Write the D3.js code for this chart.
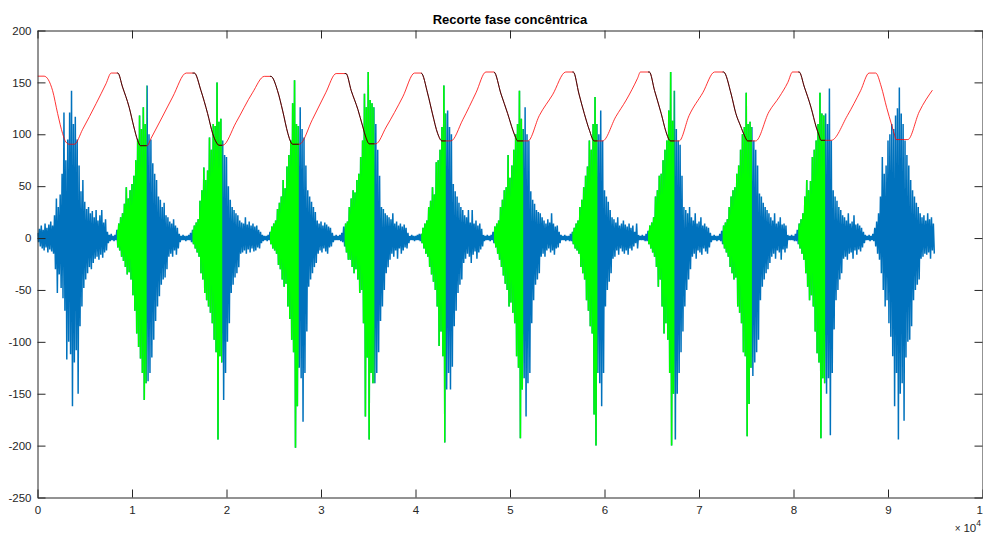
<!DOCTYPE html>
<html>
<head>
<meta charset="utf-8">
<script src="https://cdn.jsdelivr.net/npm/d3@7"></script>
<style>
  html, body { margin: 0; padding: 0; background: #fff; }
  svg { display: block; font-family: "Liberation Sans", Arial, Helvetica, sans-serif; }
</style>
</head>
<body>
<svg id="chart" width="983" height="535"></svg>
<script>
// Axis ticks (x in units of 10^4 samples)
const xTicks = [0, 1, 2, 3, 4, 5, 6, 7, 8, 9, 10];
const yTicks = [-250, -200, -150, -100, -50, 0, 50, 100, 150, 200];

// EMG envelope: per bin of 200 samples, the highest and lowest sample value
const binSize = 200;
const emgMax = [
  5,9,12,8,14,10,13,16,12,22,38,30,42,62,121,75,95,121,142,110,117,95,70,45,56,
  35,28,30,24,26,20,27,17,22,27,15,18,6,3,4,2,3,8,14,20,24,33,49,38,46,
  52,60,75,95,118,105,126,110,147,100,95,72,62,56,40,37,30,34,22,20,16,14,18,12,10,
  4,2,3,2,2,3,5,8,12,15,18,36,46,68,56,65,97,85,110,108,150,112,115,94,80,
  78,50,37,30,27,24,22,17,15,14,20,13,16,12,14,11,12,8,6,3,2,2,3,6,11,
  14,17,28,34,40,56,48,69,80,94,130,152,110,108,126,105,97,70,46,40,35,30,25,17,14,
  16,12,15,13,11,10,5,2,3,2,3,5,11,14,16,30,38,46,44,56,62,78,94,139,126,
  160,133,130,126,110,85,60,30,28,24,22,20,18,24,14,16,12,14,11,13,10,5,2,3,2,
  2,3,4,4,10,14,17,30,36,49,42,73,75,85,107,147,120,123,107,100,52,45,40,34,30,
  27,22,20,27,15,27,14,17,12,14,9,3,2,3,2,3,6,11,14,17,30,37,46,49,80,
  58,70,85,100,110,142,115,105,126,100,94,45,37,33,27,25,24,20,17,14,18,15,24,14,11,
  12,6,3,2,3,2,2,4,6,10,14,17,30,37,49,60,69,94,85,110,136,110,100,123,94,
  46,40,35,27,20,18,15,20,12,14,17,13,11,14,10,12,6,14,3,2,3,2,4,7,12,
  15,20,40,46,60,62,75,85,94,123,160,113,142,105,94,90,60,30,27,24,30,20,17,24,14,
  16,20,12,14,11,10,5,2,3,2,2,4,7,12,15,18,30,40,46,49,62,70,85,100,107,
  140,110,112,107,94,85,70,43,40,34,30,27,24,20,17,24,14,16,20,13,14,12,3,2,3,
  2,4,8,14,18,24,40,56,46,55,78,85,94,110,140,120,118,120,110,144,94,46,40,36,30,
  27,22,20,17,24,14,16,22,13,14,12,10,6,3,2,3,2,4,10,16,24,40,78,62,70,
  94,100,110,105,118,125,145,120,110,94,80,70,56,46,40,34,30,24,20,22,17,24,18,20,14
];
const emgMin = [
  -4,-8,-10,-12,-9,-14,-11,-13,-15,-30,-53,-35,-48,-58,-70,-117,-100,-112,-162,-120,-108,-150,-85,-66,-48,
  -40,-34,-28,-30,-24,-20,-18,-21,-16,-19,-14,-12,-5,-3,-2,-3,-2,-9,-12,-18,-22,-28,-35,-33,-40,
  -55,-70,-92,-105,-116,-130,-156,-140,-138,-130,-115,-98,-80,-66,-56,-45,-40,-38,-30,-18,-15,-18,-12,-16,-10,
  -4,-2,-2,-3,-2,-2,-4,-6,-10,-14,-18,-34,-40,-53,-60,-66,-72,-82,-98,-110,-194,-114,-120,-156,-130,
  -100,-82,-53,-45,-38,-34,-28,-15,-14,-12,-15,-11,-14,-10,-13,-12,-9,-10,-5,-3,-2,-3,-2,-6,-10,
  -12,-15,-26,-30,-40,-47,-44,-66,-78,-98,-110,-202,-162,-125,-135,-177,-130,-90,-47,-40,-34,-28,-24,-15,-12,
  -14,-10,-13,-15,-9,-8,-4,-2,-2,-2,-3,-4,-8,-14,-21,-21,-28,-34,-30,-40,-53,-50,-82,-172,-115,
  -194,-130,-140,-140,-130,-110,-80,-66,-50,-34,-28,-21,-15,-18,-12,-20,-10,-15,-12,-9,-10,-5,-2,-2,-3,
  -2,-2,-3,-5,-10,-15,-18,-28,-35,-42,-50,-66,-104,-90,-114,-197,-146,-130,-146,-124,-85,-70,-53,-45,-40,
  -24,-20,-15,-18,-24,-16,-13,-20,-14,-11,-8,-3,-2,-2,-3,-2,-5,-9,-15,-21,-28,-36,-44,-50,-66,
  -62,-72,-82,-114,-125,-193,-146,-135,-172,-140,-130,-82,-60,-45,-40,-34,-18,-15,-18,-12,-10,-14,-12,-16,-10,
  -9,-5,-2,-2,-3,-2,-3,-3,-6,-10,-12,-15,-28,-34,-40,-60,-70,-85,-92,-170,-200,-130,-140,-162,-130,
  -66,-50,-42,-34,-20,-18,-12,-16,-10,-13,-15,-12,-16,-10,-12,-8,-5,-10,-2,-2,-2,-3,-3,-6,-10,
  -14,-18,-28,-47,-40,-66,-92,-82,-98,-130,-200,-150,-194,-150,-130,-110,-90,-66,-50,-40,-30,-18,-15,-20,-12,
  -14,-16,-10,-13,-15,-9,-4,-2,-2,-3,-2,-3,-6,-10,-14,-18,-28,-34,-40,-38,-66,-72,-82,-110,-114,
  -191,-160,-125,-133,-120,-110,-98,-60,-47,-40,-34,-30,-24,-18,-15,-20,-12,-14,-21,-11,-14,-10,-2,-2,-2,
  -3,-3,-6,-10,-15,-21,-34,-47,-60,-55,-66,-90,-111,-120,-193,-135,-140,-150,-135,-190,-130,-88,-60,-50,-40,
  -34,-20,-18,-21,-15,-14,-20,-12,-16,-11,-13,-9,-5,-2,-2,-3,-2,-3,-8,-15,-21,-34,-50,-66,-60,
  -82,-95,-114,-162,-130,-194,-150,-140,-176,-115,-100,-98,-85,-60,-50,-45,-40,-20,-18,-15,-16,-14,-20,-12,-15
];

// Concentric phases (sample index where each phase starts / ends)
const phaseStart = [8400, 16400, 24600, 32500, 40600, 48300, 56600, 64600, 72500, 80500];
const phaseEnd   = [11550, 19550, 27650, 35650, 43200, 51400, 59250, 67400, 75600, 83350];

// Joint angle trace (x in 10^4 samples, angle in degrees)
const angleX = [
  0, 0.07, 0.16, 0.213, 0.266, 0.30, 0.337, 0.39, 0.478, 0.62, 0.725, 0.78,
  0.85, 0.90, 0.97, 1.02, 1.06, 1.09, 1.16, 1.20, 1.32, 1.43, 1.574,
  1.66, 1.73, 1.80, 1.854, 1.89, 1.92, 1.96, 2.10, 2.275, 2.40,
  2.47, 2.54, 2.595, 2.65, 2.68, 2.70, 2.77, 2.91, 3.05, 3.16,
  3.265, 3.32, 3.39, 3.44, 3.476, 3.51, 3.58, 3.69, 3.865, 3.99,
  4.06, 4.13, 4.18, 4.235, 4.28, 4.375, 4.50, 4.64, 4.745,
  4.83, 4.905, 4.975, 5.03, 5.06, 5.08, 5.19, 5.31, 5.45, 5.59,
  5.67, 5.73, 5.786, 5.84, 5.89, 5.98, 6.12, 6.23, 6.35, 6.38,
  6.475, 6.53, 6.60, 6.65, 6.685, 6.70, 6.79, 6.895, 7.04, 7.165,
  7.26, 7.34, 7.39, 7.44, 7.48, 7.515, 7.60, 7.74, 7.85, 7.94, 7.99,
  8.06, 8.115, 8.185, 8.24, 8.27, 8.29, 8.40, 8.57, 8.71, 8.80,
  8.87, 8.93, 8.985, 9.04, 9.07, 9.085, 9.21, 9.33, 9.47
];
const angleY = [
  156, 156, 142, 120, 100.6, 92.6, 90.4, 90.4, 104.8, 129.5, 148.7, 159,
  159, 145.5, 126, 107, 94, 89, 89, 95.8, 116.6, 135.9, 159,
  159, 142, 120, 100.6, 92.6, 89.4, 89.4, 111.2, 140, 155.8,
  155.8, 142, 122.4, 100.6, 92.6, 90.4, 90.4, 114.4, 140, 158.5,
  158.5, 142, 124, 108, 96.8, 90.8, 90.8, 107, 136, 159,
  159, 138.8, 119.6, 100.6, 93.6, 93.6, 114, 140, 160,
  160, 138.8, 120, 104, 96.8, 93.6, 93.6, 118, 138, 160,
  160, 138.8, 120, 104, 93.6, 93.6, 117, 133, 154, 160,
  160, 142, 120, 102.6, 94.6, 93.6, 93.6, 118, 140, 160,
  160, 138.8, 120, 108, 99, 93.6, 93.6, 121.6, 136, 150, 160,
  160, 145.5, 126, 107, 99, 94.2, 94.2, 118, 142, 159,
  159, 145.5, 126, 108.6, 99, 94.9, 94.9, 121.6, 142.5
];

const TITLE = "Recorte fase concêntrica";

// ---- layout ----
const plot = { left: 37.5, right: 982.5, top: 30.5, bottom: 497.5 };
const axisColor = "#262626";

const x = d3.scaleLinear().domain([0, 100000]).range([plot.left, plot.right]);
const y = d3.scaleLinear().domain([-250, 200]).range([plot.bottom, plot.top]);

const svg = d3.select("#chart");
const defs = svg.append("defs");

defs.append("clipPath").attr("id", "plot-area")
  .append("rect")
  .attr("x", plot.left).attr("y", plot.top)
  .attr("width", plot.right - plot.left).attr("height", plot.bottom - plot.top);

defs.append("clipPath").attr("id", "concentric")
  .selectAll("rect")
  .data(d3.zip(phaseStart, phaseEnd))
  .join("rect")
  .attr("x", d => x(d[0]))
  .attr("width", d => x(d[1]) - x(d[0]))
  .attr("y", plot.top)
  .attr("height", plot.bottom - plot.top);

const line = d3.line().x(d => x(d[0])).y(d => y(d[1]));
const smoothLine = d3.line().x(d => x(d[0])).y(d => y(d[1])).curve(d3.curveMonotoneX);

// EMG trace: each bin swings from its maximum to its minimum
const emgPoints = [];
emgMax.forEach((v, i) => {
  emgPoints.push([i * binSize, v]);
  emgPoints.push([i * binSize + binSize / 2, emgMin[i]]);
});

const angleSamples = angleX.map((v, i) => [v * 1e4, angleY[i]]);

const layer = svg.append("g").attr("clip-path", "url(#plot-area)");

layer.append("path")
  .attr("d", line(emgPoints))
  .attr("fill", "none")
  .attr("stroke", "#0072BD")
  .attr("stroke-width", 1.5)
  .attr("stroke-linejoin", "bevel");

layer.append("g").attr("clip-path", "url(#concentric)")
  .append("path")
  .attr("d", line(emgPoints))
  .attr("fill", "none")
  .attr("stroke", "#00FF00")
  .attr("stroke-width", 1.5)
  .attr("stroke-linejoin", "bevel");

layer.append("path")
  .attr("d", smoothLine(angleSamples))
  .attr("fill", "none")
  .attr("stroke", "#FF0000")
  .attr("stroke-width", 0.8);

layer.append("g").attr("clip-path", "url(#concentric)")
  .append("path")
  .attr("d", smoothLine(angleSamples))
  .attr("fill", "none")
  .attr("stroke", "#000000")
  .attr("stroke-width", 0.8);

// ---- axes (box with inward ticks on all sides) ----
const xTickVals = xTicks.map(t => t * 1e4);

function styleAxis(g) {
  g.select(".domain").attr("stroke", axisColor).attr("stroke-width", 1);
  g.selectAll(".tick line").attr("stroke", axisColor).attr("stroke-width", 1);
  g.selectAll(".tick text")
    .attr("fill", axisColor)
    .attr("font-size", "11.5px")
    .attr("font-family", "'Liberation Sans', Arial, Helvetica, sans-serif");
  g.attr("font-family", null).attr("font-size", null);
}

svg.append("g")
  .attr("transform", `translate(0,${plot.bottom})`)
  .call(d3.axisBottom(x).tickValues(xTickVals).tickFormat(d => String(d / 1e4))
    .tickSizeInner(-8).tickSizeOuter(0).tickPadding(8))
  .call(styleAxis);

svg.append("g")
  .attr("transform", `translate(0,${plot.top})`)
  .call(d3.axisTop(x).tickValues(xTickVals).tickFormat("")
    .tickSizeInner(-8).tickSizeOuter(0))
  .call(styleAxis);

svg.append("g")
  .attr("transform", `translate(${plot.left},0)`)
  .call(d3.axisLeft(y).tickValues(yTicks).tickFormat(d => String(d))
    .tickSizeInner(-8).tickSizeOuter(0).tickPadding(6))
  .call(styleAxis);

svg.append("g")
  .attr("transform", `translate(${plot.right},0)`)
  .call(d3.axisRight(y).tickValues(yTicks).tickFormat("")
    .tickSizeInner(-8).tickSizeOuter(0))
  .call(styleAxis);

// exponent label for the x axis
const expo = svg.append("text")
  .attr("x", 981).attr("y", 532)
  .attr("text-anchor", "end")
  .attr("fill", axisColor)
  .attr("font-size", "11.5px");
expo.append("tspan").attr("font-size", "10px").text("\u00d7 ");
expo.append("tspan").text("10");
expo.append("tspan").attr("dy", -6).attr("font-size", "8.5px").text("4");

// title
svg.append("text")
  .attr("x", (plot.left + plot.right) / 2)
  .attr("y", 23.5)
  .attr("text-anchor", "middle")
  .attr("font-weight", "bold")
  .attr("font-size", "13px")
  .attr("fill", "#000")
  .text(TITLE);
</script>
</body>
</html>
